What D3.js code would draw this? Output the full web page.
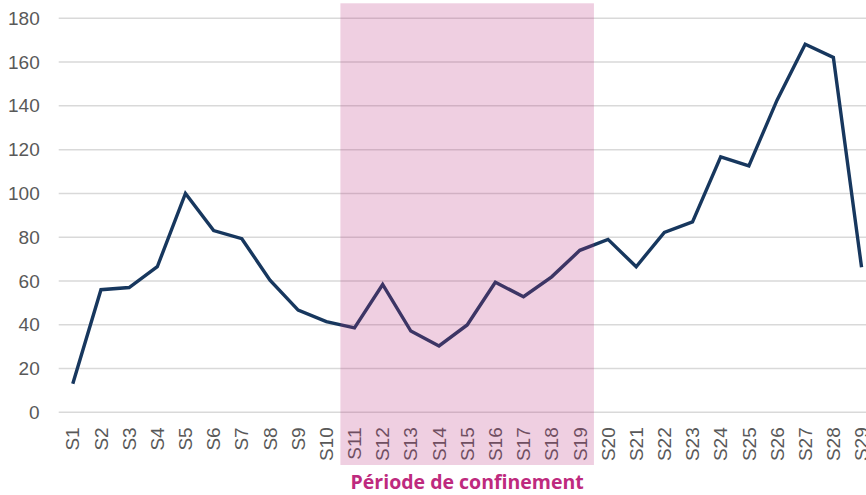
<!DOCTYPE html>
<html>
<head>
<meta charset="utf-8">
<script src="https://cdn.jsdelivr.net/npm/d3@7"></script>
<style>
  body { margin: 0; background: #fff; }
  svg { display: block; }
</style>
</head>
<body>
<svg id="chart" width="866" height="495"></svg>
<script>
// weekly values S1..S29
const weeks = d3.range(1, 30).map(i => "S" + i);
const values = [13, 56, 57, 66.5, 100, 83, 79.3, 60.4, 46.7, 41.4,
  38.6, 58.4, 37.1, 30.3, 39.9, 59.4, 52.8, 61.9, 74, 79,
  66.5, 82.2, 87, 116.7, 112.6, 142.6, 168.2, 162.1, 66.3];
const yTicks = [0, 20, 40, 60, 80, 100, 120, 140, 160, 180];
const lockdownWeeks = ["S11", "S19"];
const lockdownLabel = "Période de confinement";

const svg = d3.select("#chart");
const plotLeft = 58.7, plotBottom = 412.3, plotTop = 18.3;

const x = d3.scaleBand().domain(weeks).range([plotLeft, plotLeft + 29 * 28.17]);
const y = d3.scaleLinear().domain([0, 180]).range([plotBottom, plotTop]);

// gridlines
svg.append("g")
  .selectAll("line")
  .data(yTicks)
  .join("line")
  .attr("x1", plotLeft)
  .attr("x2", 900)
  .attr("y1", d => y(d))
  .attr("y2", d => y(d))
  .attr("stroke", "#d9d9d9")
  .attr("stroke-width", 1.5);

// y axis labels
const yAxis = svg.append("g")
  .attr("transform", "translate(" + plotLeft + ",0)")
  .call(d3.axisLeft(y).tickValues(yTicks).tickSize(0).tickPadding(19));
yAxis.select(".domain").remove();
yAxis.selectAll("text")
  .attr("fill", "#595959")
  .style("font-family", "'Liberation Sans', Arial, sans-serif")
  .style("font-size", "19px");

// x axis labels
const xAxis = svg.append("g")
  .attr("transform", "translate(0," + plotBottom + ")")
  .call(d3.axisBottom(x).tickSize(0));
xAxis.select(".domain").remove();
xAxis.selectAll("text")
  .attr("transform", "rotate(-90)")
  .attr("x", -15)
  .attr("y", 0)
  .attr("dy", "0.35em")
  .attr("text-anchor", "end")
  .attr("fill", "#595959")
  .style("font-family", "'Liberation Sans', Arial, sans-serif")
  .style("font-size", "19px");

// line
const line = d3.line()
  .x((d, i) => x(weeks[i]) + x.bandwidth() / 2)
  .y(d => y(d));

svg.append("path")
  .datum(values)
  .attr("fill", "none")
  .attr("stroke", "#17375e")
  .attr("stroke-width", 3.4)
  .attr("stroke-linejoin", "miter")
  .attr("d", line);

// lockdown band, drawn on top with transparency
const bx0 = x(lockdownWeeks[0]);
const bx1 = x(lockdownWeeks[1]) + x.bandwidth();
svg.append("rect")
  .attr("x", bx0)
  .attr("y", 3.3)
  .attr("width", bx1 - bx0)
  .attr("height", 465 - 3.3)
  .attr("fill", "#b8307f")
  .attr("fill-opacity", 0.23);

svg.append("text")
  .attr("x", (bx0 + bx1) / 2)
  .attr("y", 489)
  .attr("text-anchor", "middle")
  .attr("fill", "#be2a7e")
  .style("font-family", "'Open Sans', sans-serif")
  .style("font-weight", "bold")
  .style("font-size", "19.5px")
  .text(lockdownLabel);
</script>
</body>
</html>
